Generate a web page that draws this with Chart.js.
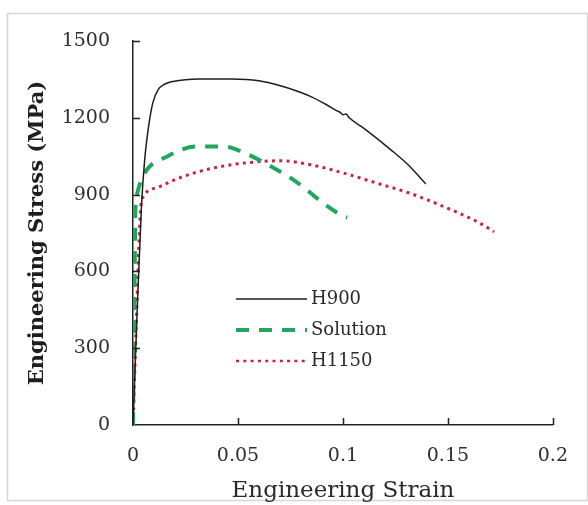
<!DOCTYPE html>
<html>
<head>
<meta charset="utf-8">
<script src="https://cdn.jsdelivr.net/npm/chart.js@4"></script>
<style>
  html, body { margin: 0; padding: 0; background: #fff; }
  #wrap { width: 588px; height: 505px; position: relative; }
</style>
</head>
<body>
<div id="wrap"><canvas id="c" width="588" height="505"></canvas></div>
<script>
// Engineering stress-strain curves for three material conditions
const h900Strain = [0, 0.002, 0.004, 0.0055, 0.0075, 0.0095, 0.012, 0.015, 0.019, 0.0316, 0.047, 0.060, 0.069, 0.079, 0.085, 0.092, 0.097, 0.0985, 0.100, 0.1015, 0.103, 0.110, 0.123, 0.132, 0.1385, 0.1395];
const h900Stress = [0, 450, 850, 1030, 1170, 1260, 1310, 1331, 1342, 1352, 1352, 1345, 1328, 1302, 1282, 1252, 1228, 1222, 1212, 1215, 1200, 1159, 1074, 1009, 950, 942];

const solutionStrain = [0, 0.0006, 0.0012, 0.002, 0.003, 0.0065, 0.016, 0.030, 0.044, 0.0536, 0.066, 0.0788, 0.0898, 0.100, 0.102];
const solutionStress = [0, 450, 850, 905, 935, 996, 1048, 1088, 1087, 1061, 1009, 944, 872, 816, 810];

const h1150Strain = [0, 0.0015, 0.0028, 0.0038, 0.0049, 0.0127, 0.0237, 0.0395, 0.055, 0.070, 0.085, 0.1008, 0.1165, 0.132, 0.148, 0.164, 0.172];
const h1150Stress = [0, 380, 700, 860, 892, 931, 970, 1006, 1025, 1032, 1016, 983, 944, 905, 853, 794, 755];

const seriesNames = ['H900', 'Solution', 'H1150'];
const xTickValues = [0, 0.05, 0.1, 0.15, 0.2];
const xTickLabels = ['0', '0.05', '0.1', '0.15', '0.2'];
const yTickValues = [0, 300, 600, 900, 1200, 1500];
const yTickLabels = ['0', '300', '600', '900', '1200', '1500'];

const toPoints = (xs, ys) => xs.map((x, i) => ({ x: x, y: ys[i] }));

const SERIF = '"DejaVu Serif", serif';

// light frame around the figure
const framePlugin = {
  id: 'frame',
  beforeDraw(chart) {
    const ctx = chart.ctx;
    ctx.save();
    ctx.fillStyle = '#fff';
    ctx.fillRect(0, 0, chart.width, chart.height);
    ctx.strokeStyle = '#d6d6d6';
    ctx.lineWidth = 1.5;
    ctx.strokeRect(7.5, 13.5, 580, 487);
    ctx.restore();
  }
};

// short tick marks pointing into the plot area
const innerTicksPlugin = {
  id: 'innerTicks',
  afterDraw(chart) {
    const { ctx, chartArea, scales } = chart;
    const len = 7;
    ctx.save();
    ctx.strokeStyle = '#222';
    ctx.lineWidth = 1.5;
    ctx.beginPath();
    xTickValues.forEach(v => {
      if (v === 0) return;
      const px = Math.round(scales.x.getPixelForValue(v)) + 0.5;
      ctx.moveTo(px, chartArea.bottom);
      ctx.lineTo(px, chartArea.bottom - len);
    });
    yTickValues.forEach(v => {
      if (v === 0) return;
      const py = Math.round(scales.y.getPixelForValue(v)) + 0.5;
      ctx.moveTo(chartArea.left, py);
      ctx.lineTo(chartArea.left + len, py);
    });
    ctx.stroke();
    ctx.restore();
  }
};

// legend drawn inside the plot area, sample line followed by the name
const insideLegendPlugin = {
  id: 'insideLegend',
  afterDraw(chart, args, opts) {
    const ctx = chart.ctx;
    const { x0, x1, y0, step, gap, font } = opts;
    ctx.save();
    chart.data.datasets.forEach((ds, i) => {
      const y = y0 + i * step;
      ctx.beginPath();
      ctx.strokeStyle = ds.borderColor;
      ctx.lineWidth = ds.legendWidth || ds.borderWidth;
      ctx.setLineDash(ds.borderDash || []);
      ctx.lineCap = 'butt';
      ctx.moveTo(x0, y);
      ctx.lineTo(x1, y);
      ctx.stroke();
      ctx.setLineDash([]);
      ctx.fillStyle = '#2a2a2a';
      ctx.font = font;
      ctx.textAlign = 'left';
      ctx.textBaseline = 'middle';
      ctx.fillText(ds.label, x1 + gap, y);
    });
    ctx.restore();
  }
};

new Chart(document.getElementById('c'), {
  type: 'line',
  data: {
    datasets: [
      {
        label: seriesNames[0],
        data: toPoints(h900Strain, h900Stress),
        borderColor: '#1e1e1e',
        borderWidth: 1.5,
        pointRadius: 0,
        cubicInterpolationMode: 'monotone',
        fill: false
      },
      {
        label: seriesNames[1],
        data: toPoints(solutionStrain, solutionStress),
        borderColor: '#22a65c',
        borderWidth: 4,
        borderDash: [13, 10],
        pointRadius: 0,
        cubicInterpolationMode: 'monotone',
        fill: false
      },
      {
        label: seriesNames[2],
        data: toPoints(h1150Strain, h1150Stress),
        borderColor: '#cc2340',
        borderWidth: 3,
        borderDash: [3, 4.3],
        legendWidth: 2.5,
        pointRadius: 0,
        cubicInterpolationMode: 'monotone',
        fill: false
      }
    ]
  },
  options: {
    responsive: false,
    animation: false,
    layout: { padding: { top: 41, right: 31, left: 0, bottom: 0 } },
    plugins: {
      legend: { display: false },
      tooltip: { enabled: false },
      insideLegend: { x0: 236, x1: 307, y0: 299, step: 31, gap: 4, font: '18px ' + SERIF }
    },
    scales: {
      x: {
        type: 'linear',
        min: 0,
        max: 0.2,
        afterFit(scale) { scale.height = 80; },
        afterBuildTicks(scale) { scale.ticks = xTickValues.map(v => ({ value: v })); },
        grid: { display: false, drawTicks: false },
        border: { display: true, color: '#222', width: 1.5 },
        ticks: {
          padding: 20,
          color: '#2e2e2e',
          font: { family: SERIF, size: 19 },
          callback: (v) => xTickLabels[xTickValues.indexOf(v)] ?? ''
        },
        title: {
          display: true,
          text: 'Engineering Strain',
          color: '#2a2a2a',
          font: { family: SERIF, size: 23 },
          padding: { top: 3, bottom: 0 }
        }
      },
      y: {
        type: 'linear',
        min: 0,
        max: 1500,
        afterFit(scale) { scale.width = 133; },
        afterBuildTicks(scale) { scale.ticks = yTickValues.map(v => ({ value: v })); },
        grid: { display: false, drawTicks: false },
        border: { display: true, color: '#222', width: 1.5 },
        ticks: {
          padding: 23,
          color: '#2e2e2e',
          font: { family: SERIF, size: 19 },
          callback: (v) => yTickLabels[yTickValues.indexOf(v)] ?? ''
        },
        title: {
          display: true,
          text: 'Engineering Stress (MPa)',
          color: '#1e1e1e',
          font: { family: SERIF, size: 21, weight: 'bold' },
          padding: { top: 25, bottom: 0 }
        }
      }
    }
  },
  plugins: [framePlugin, innerTicksPlugin, insideLegendPlugin]
});
</script>
</body>
</html>
